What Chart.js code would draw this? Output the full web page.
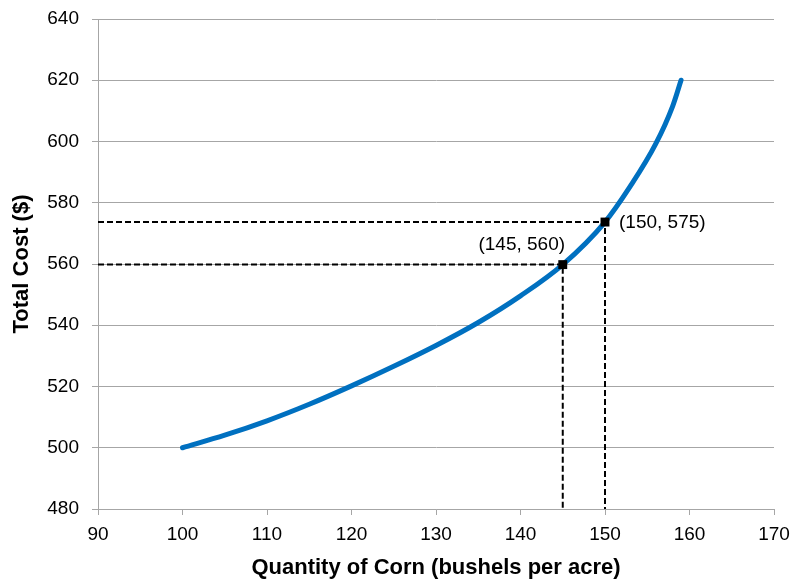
<!DOCTYPE html>
<html>
<head>
<meta charset="utf-8">
<script src="https://cdn.jsdelivr.net/npm/chart.js@4.4.0/dist/chart.umd.min.js"></script>
<style>
  html, body { margin: 0; padding: 0; background: #fff; }
  #wrap { width: 792px; height: 581px; }
</style>
</head>
<body>
<div id="wrap"><canvas id="grafico" width="792" height="581"></canvas></div>
<script>
// total cost curve
const quantidade = [100, 105, 110, 115, 120, 125, 130, 135, 140, 145, 150, 153, 156, 158, 159];
const custoTotal = [500, 504.1, 508.8, 514.2, 520.2, 526.6, 533.4, 540.9, 549.6, 559.8, 573.7, 585.4, 599.2, 611.5, 620];

// marked points and their labels
const pontosQtd = [145, 150];
const pontosCusto = [559.8, 573.7];
const pontosRotulos = ['(145, 560)', '(150, 575)'];

const xTicks = [90, 100, 110, 120, 130, 140, 150, 160, 170];
const yTicks = [480, 500, 520, 540, 560, 580, 600, 620, 640];

const azul = '#0070c0';
const cinza = '#a6a6a6';
const fonte = '"Liberation Sans", Arial, sans-serif';

const curva = quantidade.map((q, i) => ({ x: q, y: custoTotal[i] }));

const tracejados = pontosQtd.map((q, i) => ({
    data: [{ x: xTicks[0], y: pontosCusto[i] }, { x: q, y: pontosCusto[i] }, { x: q, y: yTicks[0] }],
    borderColor: '#000',
    borderWidth: 2,
    borderDash: [6, 3],
    pointRadius: 0,
    showLine: true,
    tension: 0,
    order: 3
}));

const rotulosPlugin = {
    id: 'rotulos',
    afterDatasetsDraw(chart) {
        const ctx = chart.ctx;
        const xs = chart.scales.x, ys = chart.scales.y;
        ctx.save();
        ctx.font = '19px ' + fonte;
        ctx.fillStyle = '#000';
        ctx.textBaseline = 'middle';
        // (145, 560) sits above-left of its marker
        ctx.textAlign = 'center';
        ctx.fillText(pontosRotulos[0], xs.getPixelForValue(pontosQtd[0]) - 41, ys.getPixelForValue(pontosCusto[0]) - 20);
        // (150, 575) sits to the right
        ctx.textAlign = 'left';
        ctx.fillText(pontosRotulos[1], xs.getPixelForValue(pontosQtd[1]) + 14, ys.getPixelForValue(pontosCusto[1]) + 1);
        ctx.restore();
    }
};

new Chart(document.getElementById('grafico').getContext('2d'), {
    type: 'scatter',
    data: {
        datasets: [
            {
                data: curva,
                borderColor: azul,
                borderWidth: 5,
                pointRadius: 0,
                showLine: true,
                cubicInterpolationMode: 'monotone',
                borderCapStyle: 'round',
                order: 2
            },
            ...tracejados,
            {
                data: pontosQtd.map((q, i) => ({ x: q, y: pontosCusto[i] })),
                pointStyle: 'rect',
                pointRadius: 6.3,
                backgroundColor: '#000',
                borderColor: '#000',
                borderWidth: 0,
                order: 1
            }
        ]
    },
    options: {
        responsive: false,
        animation: false,
        layout: { padding: { top: 19, right: 18, left: 0, bottom: 0 } },
        plugins: { legend: { display: false }, tooltip: { enabled: false } },
        scales: {
            x: {
                type: 'linear',
                min: 90,
                max: 170,
                afterBuildTicks: s => { s.ticks = xTicks.map(v => ({ value: v })); },
                ticks: { color: '#000', font: { family: fonte, size: 19 }, padding: 8 },
                grid: { display: true, drawOnChartArea: false, color: cinza, tickLength: 6 },
                border: { color: cinza, width: 1 },
                title: {
                    display: true,
                    text: 'Quantity of Corn (bushels per acre)',
                    color: '#000',
                    font: { family: fonte, size: 22, weight: 'bold' },
                    padding: { top: 0, bottom: 0 }
                },
                afterFit: s => { s.height = 72; s.paddingLeft = 0; s.paddingRight = 0; }
            },
            y: {
                min: 480,
                max: 640,
                afterBuildTicks: s => { s.ticks = yTicks.map(v => ({ value: v })); },
                ticks: { color: '#000', font: { family: fonte, size: 19 }, padding: 13 },
                grid: { color: cinza, tickLength: 6 },
                border: { color: cinza, width: 1 },
                title: {
                    display: true,
                    text: 'Total Cost ($)',
                    color: '#000',
                    font: { family: fonte, size: 22, weight: 'bold' },
                    padding: { top: 9, bottom: 0 }
                },
                afterFit: s => { s.width = 98; s.paddingTop = 0; s.paddingBottom = 0; }
            }
        }
    },
    plugins: [rotulosPlugin]
});
</script>
</body>
</html>
